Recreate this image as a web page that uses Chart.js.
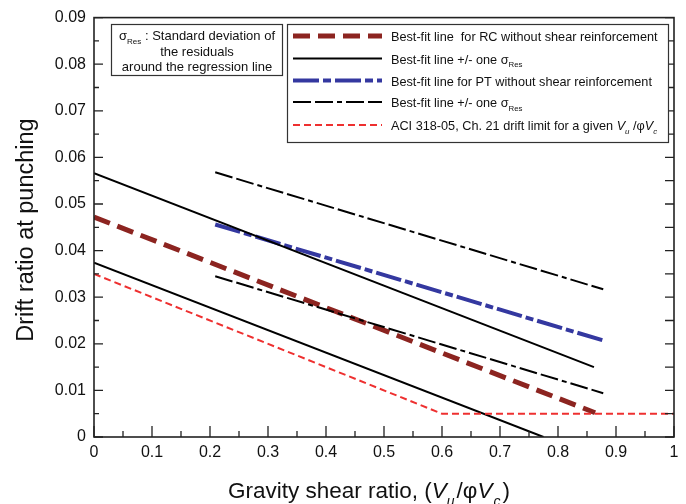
<!DOCTYPE html>
<html>
<head>
<meta charset="utf-8">
<script src="https://cdn.jsdelivr.net/npm/chart.js@4/dist/chart.umd.min.js"></script>
<style>
  html, body { margin: 0; padding: 0; background: #fff; }
  #wrap { width: 686px; height: 504px; position: relative; }
</style>
</head>
<body>
<div id="wrap"><canvas id="c" width="686" height="504"></canvas></div>
<script>
// Axis ticks
const xTicks = [0, 0.1, 0.2, 0.3, 0.4, 0.5, 0.6, 0.7, 0.8, 0.9, 1];
const yTicks = [0, 0.01, 0.02, 0.03, 0.04, 0.05, 0.06, 0.07, 0.08, 0.09];

// RC slabs: best-fit line and +/- one sigma band
const rcX = [0, 0.864];
const rcY = [0.0472, 0.0052];
const rcUpX = [0, 0.862];
const rcUpY = [0.0566, 0.0150];
const rcLoX = [0, 0.775];
const rcLoY = [0.0374, 0];

// PT slabs: best-fit line and +/- one sigma band
const ptX = [0.209, 0.881];
const ptY = [0.0456, 0.0206];
const ptUpX = [0.209, 0.878];
const ptUpY = [0.0568, 0.0317];
const ptLoX = [0.209, 0.878];
const ptLoY = [0.0345, 0.0094];

// ACI 318-05 Ch. 21 drift limit
const aciX = [0, 0.6, 1];
const aciY = [0.035, 0.005, 0.005];

const pts = (xs, ys) => xs.map((x, i) => ({ x: x, y: ys[i] }));

const styles = {
  rc:   { color: 'rgb(140,36,32)', width: 5,   dash: [17, 8] },
  rcSd: { color: '#000',           width: 2,   dash: [] },
  pt:   { color: 'rgb(52,56,160)', width: 4,   dash: [26, 4, 8, 4] },
  ptSd: { color: '#000',           width: 2,   dash: [18, 4, 18, 4, 5, 4] },
  aci:  { color: 'rgb(238,48,48)', width: 2,   dash: [7, 4] }
};

function ds(data, st) {
  return {
    data: data, showLine: true, fill: false, pointRadius: 0,
    borderColor: st.color, borderWidth: st.width, borderDash: st.dash,
    borderCapStyle: 'butt', tension: 0
  };
}

const FONT = '"Liberation Sans", Arial, sans-serif';

// Draw a run of text segments (plain / subscript / italic) starting at x
function richText(ctx, segs, x, y, size, subDrop) {
  const drop = subDrop === undefined ? 0.28 : subDrop;
  let cx = x;
  for (const s of segs) {
    const sz = s.sub ? size * 0.62 : size;
    ctx.font = (s.it ? 'italic ' : '') + sz + 'px ' + FONT;
    ctx.fillText(s.t, cx, y + (s.sub ? size * drop : 0));
    cx += ctx.measureText(s.t).width + (s.gap || 0);
  }
  return cx - x;
}
function richWidth(ctx, segs, size) {
  let w = 0;
  for (const s of segs) {
    const sz = s.sub ? size * 0.62 : size;
    ctx.font = (s.it ? 'italic ' : '') + sz + 'px ' + FONT;
    w += ctx.measureText(s.t).width + (s.gap || 0);
  }
  return w;
}

const legendItems = [
  { st: styles.rc,   segs: [{ t: 'Best-fit line  for RC without shear reinforcement' }] },
  { st: styles.rcSd, segs: [{ t: 'Best-fit line +/- one σ' }, { t: 'Res', sub: true }] },
  { st: styles.pt,   segs: [{ t: 'Best-fit line for PT without shear reinforcement' }] },
  { st: styles.ptSd, segs: [{ t: 'Best-fit line +/- one σ' }, { t: 'Res', sub: true }] },
  { st: styles.aci,  segs: [{ t: 'ACI 318-05, Ch. 21 drift limit for a given ' }, { t: 'V', it: true },
                            { t: 'u', it: true, sub: true }, { t: ' /φ' }, { t: 'V', it: true }, { t: 'c', it: true, sub: true }] }
];

const decor = {
  id: 'decor',
  afterDraw(chart) {
    const ctx = chart.ctx;
    const a = chart.chartArea;
    const xs = chart.scales.x, ys = chart.scales.y;
    ctx.save();

    // inward tick marks
    ctx.strokeStyle = '#222';
    ctx.lineWidth = 1.3;
    ctx.setLineDash([]);
    ctx.beginPath();
    for (let i = 0; i <= 20; i++) {
      const v = i * 0.05;
      const px = xs.getPixelForValue(v);
      const len = i % 2 === 0 ? 11 : 6;
      ctx.moveTo(px, a.bottom); ctx.lineTo(px, a.bottom - len);
    }
    for (let i = 0; i <= 18; i++) {
      const v = i * 0.005;
      const py = ys.getPixelForValue(v);
      const len = i % 2 === 0 ? 9 : 5;
      ctx.moveTo(a.left, py); ctx.lineTo(a.left + len, py);
      ctx.moveTo(a.right, py); ctx.lineTo(a.right - 9, py);
    }
    ctx.stroke();

    // frame
    ctx.lineWidth = 1.6;
    ctx.strokeRect(a.left, a.top, a.right - a.left, a.bottom - a.top);

    // annotation box
    ctx.fillStyle = '#fff';
    ctx.fillRect(111, 24, 171, 51);
    ctx.lineWidth = 1.2;
    ctx.strokeStyle = '#333';
    ctx.strokeRect(111.5, 24.5, 171, 51);
    ctx.fillStyle = '#111';
    ctx.textBaseline = 'alphabetic';
    ctx.textAlign = 'left';
    const boxLines = [
      [{ t: 'σ' }, { t: 'Res', sub: true }, { t: ' : Standard deviation of' }],
      [{ t: 'the residuals' }],
      [{ t: 'around the regression line' }]
    ];
    const baseY = [40, 56, 71];
    boxLines.forEach((segs, i) => {
      const w = richWidth(ctx, segs, 13);
      richText(ctx, segs, 197 - w / 2, baseY[i], 13);
    });

    // legend box
    ctx.fillStyle = '#fff';
    ctx.fillRect(287, 24, 382, 119);
    ctx.strokeStyle = '#333';
    ctx.lineWidth = 1.2;
    ctx.strokeRect(287.5, 24.5, 381, 118);
    const rowY = [36, 58.5, 80.5, 102, 125];
    legendItems.forEach((it, i) => {
      const y = rowY[i];
      ctx.strokeStyle = it.st.color;
      ctx.lineWidth = it.st.width;
      ctx.setLineDash(it.st.dash);
      ctx.lineCap = 'butt';
      ctx.beginPath();
      ctx.moveTo(293, y); ctx.lineTo(382, y);
      ctx.stroke();
      ctx.setLineDash([]);
      ctx.fillStyle = '#111';
      richText(ctx, it.segs, 391, y + 5, 12.7);
    });

    // axis titles
    ctx.fillStyle = '#111';
    ctx.save();
    ctx.translate(33, 230);
    ctx.rotate(-Math.PI / 2);
    ctx.textAlign = 'center';
    ctx.font = '23.5px ' + FONT;
    ctx.fillText('Drift ratio at punching', 0, 0);
    ctx.restore();

    ctx.textAlign = 'left';
    const xt = [{ t: 'Gravity shear ratio, (' }, { t: 'V', it: true }, { t: 'u', it: true, sub: true, gap: 2 },
                { t: '/φ' }, { t: 'V', it: true, gap: 1 }, { t: 'c', it: true, sub: true, gap: 2 }, { t: ')' }];
    richText(ctx, xt, 228, 498, 22.5, 0.36);

    ctx.restore();
  }
};

new Chart(document.getElementById('c'), {
  type: 'scatter',
  data: {
    datasets: [
      ds(pts(aciX, aciY), styles.aci),
      ds(pts(rcLoX, rcLoY), styles.rcSd),
      ds(pts(rcUpX, rcUpY), styles.rcSd),
      ds(pts(ptLoX, ptLoY), styles.ptSd),
      ds(pts(ptUpX, ptUpY), styles.ptSd),
      ds(pts(ptX, ptY), styles.pt),
      ds(pts(rcX, rcY), styles.rc)
    ]
  },
  options: {
    responsive: false,
    animation: false,
    events: [],
    layout: { padding: { top: 17, right: 12, left: 0, bottom: 0 } },
    plugins: { legend: { display: false }, tooltip: { enabled: false } },
    scales: {
      x: {
        type: 'linear', min: 0, max: 1,
        afterBuildTicks: s => { s.ticks = xTicks.map(v => ({ value: v })); },
        afterFit: s => { s.height = 67; },
        grid: { display: false, drawTicks: false },
        border: { display: false },
        ticks: {
          padding: 6, color: '#111', maxRotation: 0, autoSkip: false,
          font: { family: FONT, size: 16 },
          callback: v => (v === 0 ? '0' : v === 1 ? '1' : String(+v.toFixed(1)))
        }
      },
      y: {
        type: 'linear', min: 0, max: 0.09,
        afterBuildTicks: s => { s.ticks = yTicks.map(v => ({ value: v })); },
        afterFit: s => { s.width = 94; },
        grid: { display: false, drawTicks: false },
        border: { display: false },
        ticks: {
          padding: 8, color: '#111', autoSkip: false,
          font: { family: FONT, size: 16 },
          callback: v => (v === 0 ? '0' : v.toFixed(2))
        }
      }
    }
  },
  plugins: [decor]
});
</script>
</body>
</html>
